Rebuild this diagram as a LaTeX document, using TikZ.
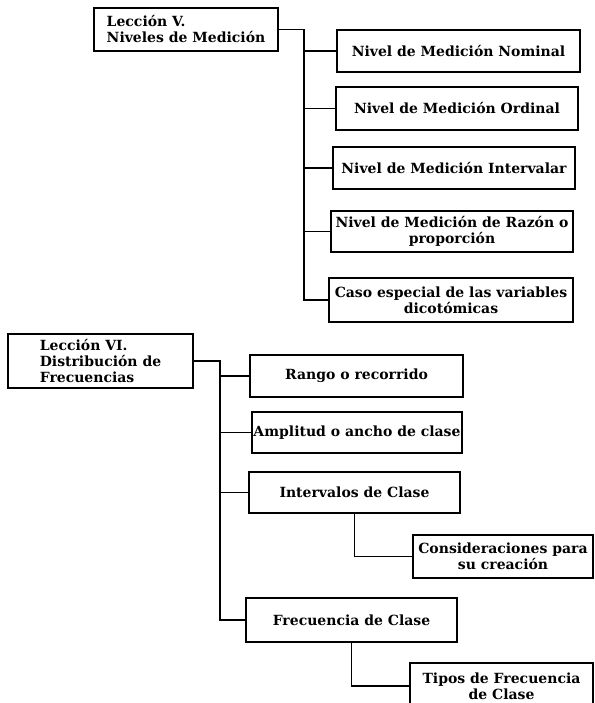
\documentclass[tikz,border=0pt]{standalone}
\usepackage{fontspec}
\setmainfont{DejaVu Serif}
\begin{document}
\begin{tikzpicture}[x=1pt,y=-1pt,
  box/.style={draw, line width=1.2pt, inner sep=1pt, align=center,
    font=\fontsize{14}{16}\selectfont\bfseries},
  conn/.style={line width=1.2pt}]
\useasboundingbox (0,0) rectangle (594,703);
% Lesson V
\node[box, minimum width=184pt, minimum height=43pt, align=left] (L5) at (186,29.5) {Lección V.\\Niveles de Medición};
\node[box, minimum width=243pt, minimum height=42pt] (nom) at (458.5,51) {Nivel de Medición Nominal};
\node[box, minimum width=242pt, minimum height=43pt] (ord) at (457,108.5) {Nivel de Medición Ordinal};
\node[box, minimum width=242pt, minimum height=42pt] (intv) at (454,168) {Nivel de Medición Intervalar};
\node[box, minimum width=242pt, minimum height=41pt] (raz) at (452,231.5) {Nivel de Medición de Razón o\\proporción};
\node[box, minimum width=244pt, minimum height=44pt] (caso) at (451,300) {Caso especial de las variables\\dicotómicas};
\coordinate (v5) at (304,29.5);
\draw[conn] (L5.east) -- (v5) |- (caso.west);
\draw[conn] (v5 |- nom.west) -- (nom.west);
\draw[conn] (v5 |- ord.west) -- (ord.west);
\draw[conn] (v5 |- intv.west) -- (intv.west);
\draw[conn] (v5 |- raz.west) -- (raz.west);
% Lesson VI
\node[box, minimum width=185pt, minimum height=54pt, align=left] (L6) at (100.5,361) {Lección VI.\\Distribución de\\Frecuencias};
\node[box, minimum width=213pt, minimum height=42pt] (rango) at (356.5,376) {Rango o recorrido};
\node[box, minimum width=210pt, minimum height=41pt] (ampl) at (357,432.5) {Amplitud o ancho de clase};
\node[box, minimum width=211pt, minimum height=41pt] (interv) at (354.5,492.5) {Intervalos de Clase};
\node[box, minimum width=180pt, minimum height=43pt] (cons) at (503,556.5) {Consideraciones para\\su creación};
\node[box, minimum width=211pt, minimum height=44pt] (frec) at (351.5,620) {Frecuencia de Clase};
\node[box, minimum width=183pt, minimum height=46pt] (tipos) at (501.5,686) {Tipos de Frecuencia\\de Clase};
\coordinate (v6) at (220,361);
\draw[conn] (L6.east) -- (v6) |- (frec.west);
\draw[conn] (v6 |- rango.west) -- (rango.west);
\draw[conn] (v6 |- ampl.west) -- (ampl.west);
\draw[conn] (v6 |- interv.west) -- (interv.west);
\draw[conn] (interv.south) |- (cons.west);
\draw[conn] (frec.south) |- (tipos.west);
\end{tikzpicture}
\end{document}
